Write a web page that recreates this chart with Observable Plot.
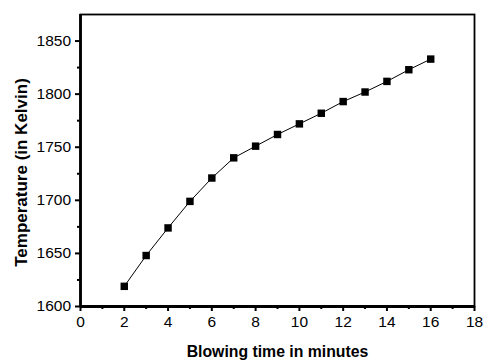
<!DOCTYPE html>
<html>
<head>
<meta charset="utf-8">
<script src="https://cdn.jsdelivr.net/npm/d3@7"></script>
<script src="https://cdn.jsdelivr.net/npm/@observablehq/plot@0.6"></script>
<style>
  html, body { margin: 0; padding: 0; background: #fff; }
  #chart svg { display: block; }
</style>
</head>
<body>
<div id="chart"></div>
<script>
const minutes = [2, 3, 4, 5, 6, 7, 8, 9, 10, 11, 12, 13, 14, 15, 16];
const temperature = [1619, 1648, 1674, 1699, 1721, 1740, 1751, 1762, 1772, 1782, 1793, 1802, 1812, 1823, 1833];
const xMajorTicks = [0, 2, 4, 6, 8, 10, 12, 14, 16, 18];
const xMinorTicks = [1, 3, 5, 7, 9, 11, 13, 15, 17];
const yMajorTicks = [1600, 1650, 1700, 1750, 1800, 1850];
const yMinorTicks = [1625, 1675, 1725, 1775, 1825];
const xTitle = "Blowing time in minutes";
const yTitle = "Temperature (in Kelvin)";

const data = minutes.map((m, i) => ({m, t: temperature[i]}));

const chart = Plot.plot({
  width: 489,
  height: 361,
  marginLeft: 80,
  marginRight: 15,
  marginTop: 14,
  marginBottom: 55,
  style: {fontFamily: "Liberation Sans, Arial, sans-serif", fontSize: "15.5px", color: "#000", background: "#fff"},
  x: {domain: [0, 18]},
  y: {domain: [1600, 1875]},
  marks: [
    Plot.frame({stroke: "#000", strokeWidth: 1.8}),
    Plot.ruleX([0], {stroke: "#000", strokeWidth: 2.8}),
    Plot.ruleY([1600], {stroke: "#000", strokeWidth: 2.8}),
    Plot.axisX(xMinorTicks, {tickSize: 3, tickPadding: 0, text: null, strokeWidth: 2, label: null}),
    Plot.axisX(xMajorTicks, {tickSize: 5, tickPadding: 4, strokeWidth: 2, label: null, fontSize: 15.5, tickFormat: d3.format("d")}),
    Plot.axisY(yMinorTicks, {tickSize: 3, tickPadding: 0, text: null, strokeWidth: 2, label: null}),
    Plot.axisY(yMajorTicks, {tickSize: 5, tickPadding: 4.5, strokeWidth: 2, label: null, fontSize: 15.5, tickFormat: d3.format("d")}),
    Plot.text([xTitle], {frameAnchor: "bottom", lineAnchor: "middle", dy: 45, fontWeight: "bold", fontSize: 15.8, fill: "#000"}),
    Plot.text([yTitle], {frameAnchor: "left", textAnchor: "middle", lineAnchor: "middle", dx: -59, dy: 12, rotate: -90, fontWeight: "bold", fontSize: 17, fill: "#000"}),
    Plot.line(data, {x: "m", y: "t", stroke: "#000", strokeWidth: 1}),
    Plot.dot(data, {x: "m", y: "t", symbol: "square", r: 4.2, fill: "#000", stroke: "none"})
  ]
});
document.getElementById("chart").appendChild(chart);
</script>
</body>
</html>
